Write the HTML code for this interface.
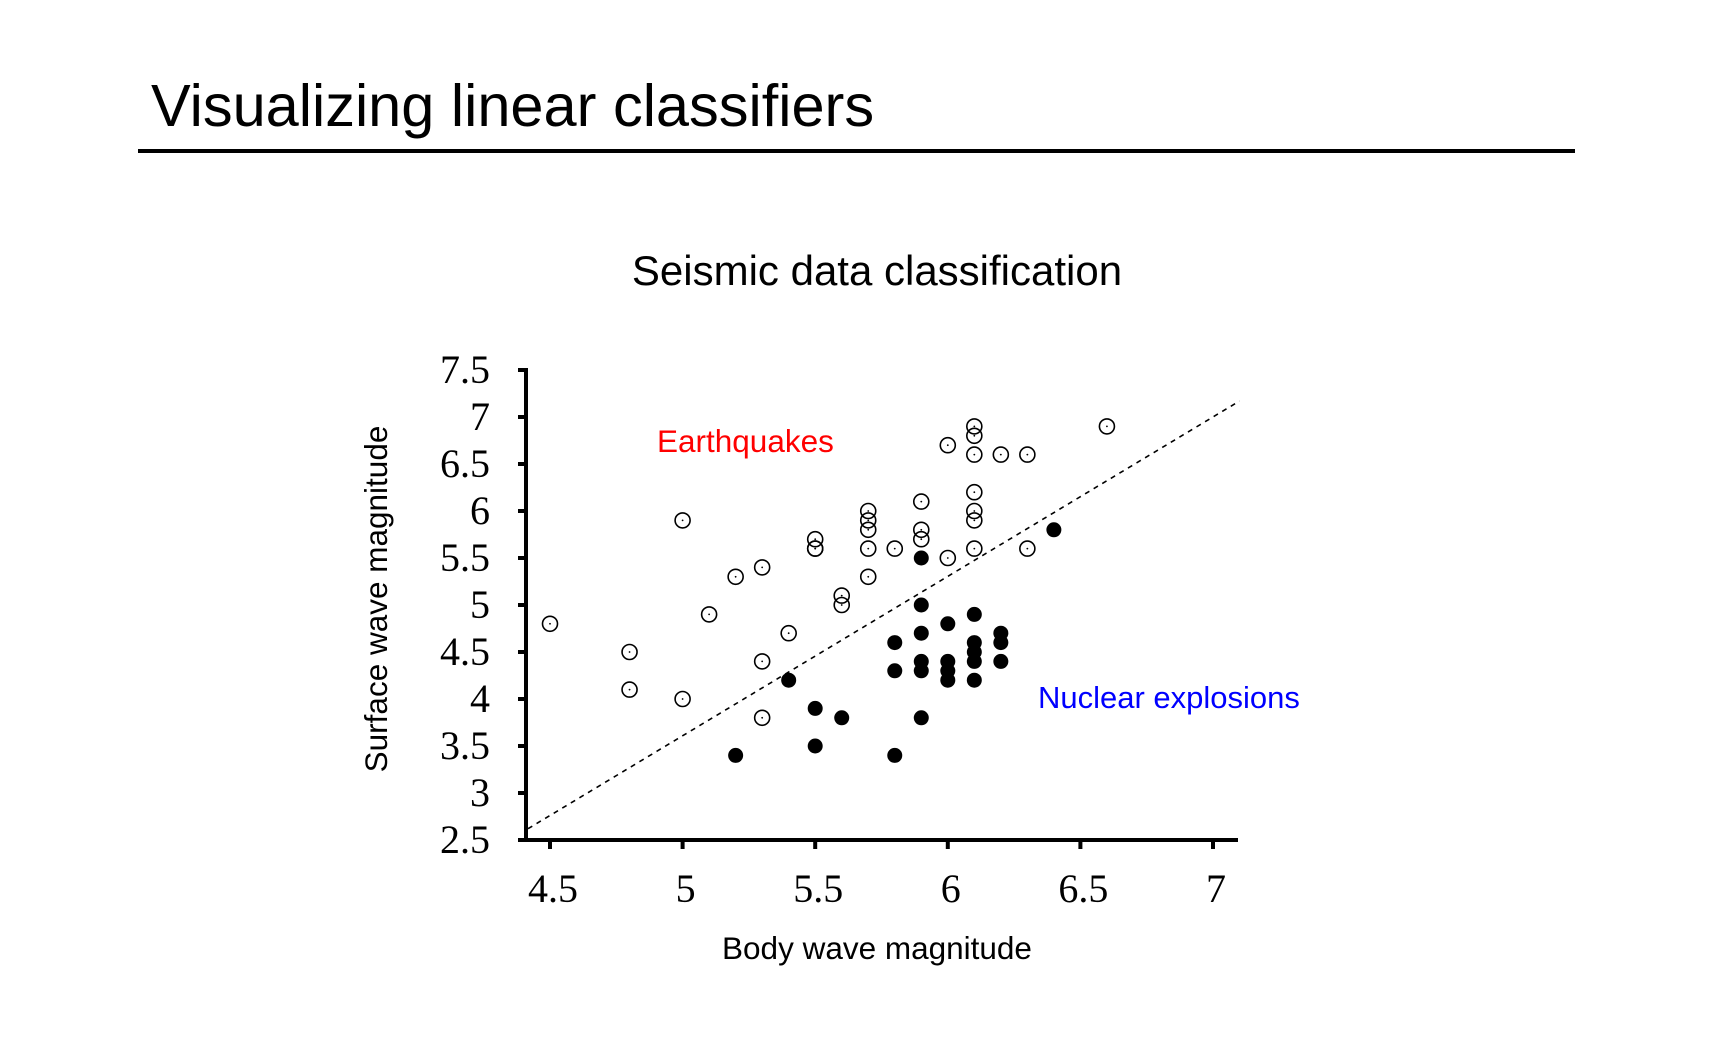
<!DOCTYPE html>
<html><head><meta charset="utf-8"><style>
html,body{margin:0;padding:0;background:#fff;width:1716px;height:1049px;overflow:hidden}
svg{display:block}
</style></head><body>
<svg id="chart" width="1716" height="1049" viewBox="0 0 1716 1049">
<text x="151" y="126" font-family="Liberation Sans, sans-serif" font-size="59.5" fill="#000">Visualizing linear classifiers</text>
<rect x="138" y="149" width="1437" height="4" fill="#000"/>
<text x="877" y="285" text-anchor="middle" font-family="Liberation Sans, sans-serif" font-size="42" fill="#000">Seismic data classification</text>
<text transform="translate(387,599) rotate(-90)" text-anchor="middle" font-family="Liberation Sans, sans-serif" font-size="31.5" fill="#000">Surface wave magnitude</text>
<text x="877" y="959" text-anchor="middle" font-family="Liberation Sans, sans-serif" font-size="31.5" fill="#000">Body wave magnitude</text>
<text x="657" y="452" font-family="Liberation Sans, sans-serif" font-size="31.5" fill="#f00">Earthquakes</text>
<text x="1038" y="708" font-family="Liberation Sans, sans-serif" font-size="31" fill="#00f">Nuclear explosions</text>
<g id="plot"></g>
</svg>
<script>
const xTicks = [4.5, 5, 5.5, 6, 6.5, 7];
const yTicks = [2.5, 3, 3.5, 4, 4.5, 5, 5.5, 6, 6.5, 7, 7.5];
const quakeX = [4.5,4.8,4.8,5.0,5.0,5.1,5.2,5.3,5.3,5.3,5.4,5.5,5.5,5.5,5.6,5.6,5.7,5.7,5.7,5.7,5.7,5.8,5.9,5.9,5.9,6.0,6.0,6.1,6.1,6.1,6.1,6.1,6.1,6.1,6.2,6.3,6.3,6.6];
const quakeY = [4.8,4.5,4.1,5.9,4.0,4.9,5.3,5.4,4.4,3.8,4.7,5.7,5.6,5.6,5.1,5.0,6.0,5.9,5.8,5.6,5.3,5.6,6.1,5.8,5.7,6.7,5.5,6.9,6.8,6.6,6.2,6.0,5.9,5.6,6.6,6.6,5.6,6.9];
const nukeX = [5.2,5.4,5.5,5.5,5.6,5.8,5.8,5.8,5.9,5.9,5.9,5.9,5.9,5.9,6.0,6.0,6.0,6.0,6.1,6.1,6.1,6.1,6.1,6.2,6.2,6.2,6.4];
const nukeY = [3.4,4.2,3.9,3.5,3.8,4.6,4.3,3.4,5.5,5.0,4.7,4.4,4.3,3.8,4.8,4.4,4.3,4.2,4.9,4.6,4.5,4.4,4.2,4.7,4.6,4.4,5.8];
const lineX = [4.417, 7.1];
const lineY = [2.62, 7.17];

const NS = 'http://www.w3.org/2000/svg';
const g = document.getElementById('plot');
const X = v => 550 + (v - 4.5) * 265.2;
const Y = v => 840 - (v - 2.5) * 94;
function mk(tag, attrs) {
  const e = document.createElementNS(NS, tag);
  for (const k in attrs) e.setAttribute(k, attrs[k]);
  g.appendChild(e);
  return e;
}
let e;
e = mk('line', {x1: 526, y1: 368, x2: 526, y2: 842, stroke: '#000', 'stroke-width': 4});


e = mk('line', {x1: 524, y1: 840, x2: 1238, y2: 840, stroke: '#000', 'stroke-width': 4});


yTicks.forEach(t => {
  e = mk('line', {x1: 518, y1: Y(t), x2: 526, y2: Y(t), stroke: '#000', 'stroke-width': 4});
  
  
  e = mk('text', {x: 490, y: Y(t) + 13, 'text-anchor': 'end', 'font-family': 'Liberation Serif, serif', 'font-size': 40});
  e.textContent = String(t);
  
  
});
xTicks.forEach(t => {
  e = mk('line', {x1: X(t), y1: 840, x2: X(t), y2: 849, stroke: '#000', 'stroke-width': 4});
  
  
  e = mk('text', {x: X(t) + 3, y: 902, 'text-anchor': 'middle', 'font-family': 'Liberation Serif, serif', 'font-size': 40});
  e.textContent = String(t);
  
  
});
e = mk('line', {x1: X(lineX[0]), y1: Y(lineY[0]), x2: X(lineX[1]), y2: Y(lineY[1]), stroke: '#000', 'stroke-width': 1.6, 'stroke-dasharray': '5,5'});


quakeX.forEach((v, i) => {
  e = mk('circle', {cx: X(v), cy: Y(quakeY[i]), r: 7.5, fill: 'none', stroke: '#000', 'stroke-width': 1.6});
  
  
  e = mk('circle', {cx: X(v), cy: Y(quakeY[i]), r: 0.9, fill: '#000'});
  
  
});
nukeX.forEach((v, i) => {
  e = mk('circle', {cx: X(v), cy: Y(nukeY[i]), r: 7.5, fill: '#000'});
  
  
});
</script>
</body></html>
